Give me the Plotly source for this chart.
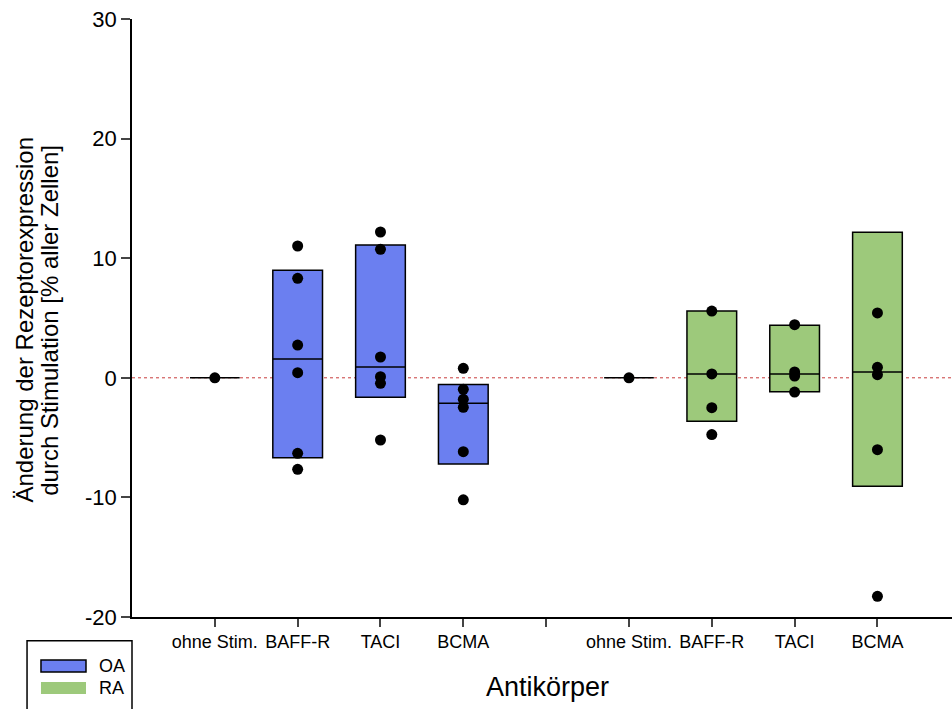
import plotly.graph_objects as go

# ---- data ----
categories = ["ohne Stim.", "BAFF-R", "TACI", "BCMA", "", "ohne Stim.", "BAFF-R", "TACI", "BCMA"]
oa_pos = [1, 2, 3, 4]
ra_pos = [6, 7, 8, 9]

oa_top = [0.0, 9.0, 11.1, -0.55]
oa_median = [0.0, 1.57, 0.9, -2.13]
oa_bottom = [0.0, -6.68, -1.63, -7.2]
oa_points = [
    [0.0],
    [11.02, 8.32, 2.74, 0.43, -6.31, -7.65],
    [12.19, 10.74, 1.74, 0.09, -0.46, -5.2],
    [0.79, -0.96, -1.8, -2.47, -6.18, -10.2],
]

ra_top = [0.0, 5.58, 4.39, 12.17]
ra_median = [0.0, 0.32, 0.32, 0.49]
ra_bottom = [0.0, -3.64, -1.16, -9.07]
ra_points = [
    [0.0],
    [5.58, 0.32, -2.5, -4.75],
    [4.44, 0.49, 0.15, -1.19],
    [5.42, 0.88, 0.26, -6.01, -18.27],
]

y_ticks = [-20, -10, 0, 10, 20, 30]
y_ticktext = ["-20", "-10", "0", "10", "20", "30"]
groups = ["OA", "RA"]
y_title_lines = ["Änderung der Rezeptorexpression", "durch Stimulation [% aller Zellen]"]
x_title = "Antikörper"

BLUE = "#6b7ff0"
GREEN = "#9dc97b"
BOX_W = 0.6

fig = go.Figure()


def add_group(pos, top, med, bot, pts, color):
    xs_box, heights, bases = [], [], []
    for p, t, b in zip(pos, top, bot):
        if t != b:
            xs_box.append(p)
            heights.append(t - b)
            bases.append(b)
    fig.add_trace(go.Bar(x=xs_box, y=heights, base=bases, width=BOX_W,
                         marker=dict(color=color, line=dict(color="black", width=1.5)),
                         showlegend=False, hoverinfo="skip"))
    mx, my = [], []
    for p, m in zip(pos, med):
        mx += [p - BOX_W / 2, p + BOX_W / 2, None]
        my += [m, m, None]
    fig.add_trace(go.Scatter(x=mx, y=my, mode="lines", line=dict(color="black", width=1.5),
                             showlegend=False, hoverinfo="skip"))
    px, py = [], []
    for p, vals in zip(pos, pts):
        px += [p] * len(vals)
        py += vals
    fig.add_trace(go.Scatter(x=px, y=py, mode="markers",
                             marker=dict(color="black", size=11),
                             showlegend=False))


add_group(oa_pos, oa_top, oa_median, oa_bottom, oa_points, BLUE)
add_group(ra_pos, ra_top, ra_median, ra_bottom, ra_points, GREEN)

# zero reference line
fig.add_shape(type="line", xref="paper", yref="y", x0=0, x1=1, y0=0, y1=0,
              line=dict(color="#c83c3c", width=1, dash="dot"), layer="below")

# custom legend
fig.add_shape(type="rect", xref="paper", yref="paper", x0=-0.128, x1=0.0, y0=-0.0396, y1=-0.2,
              line=dict(color="black", width=1.5), fillcolor="white")
fig.add_shape(type="rect", xref="paper", yref="paper", x0=-0.111, x1=-0.0561, y0=-0.0719, y1=-0.092,
              line=dict(color="black", width=1.5), fillcolor=BLUE)
fig.add_shape(type="rect", xref="paper", yref="paper", x0=-0.111, x1=-0.0561, y0=-0.1087, y1=-0.1288,
              line=dict(width=0), fillcolor=GREEN)
for name, yy in zip(groups, [-0.082, -0.119]):
    fig.add_annotation(text=name, xref="paper", yref="paper", x=-0.0427, y=yy,
                       xanchor="left", yanchor="middle", showarrow=False,
                       font=dict(size=18, color="black"))

# axis titles
for line, xx in zip(y_title_lines, [-0.131, -0.1002]):
    fig.add_annotation(text=line, xref="paper", yref="paper", x=xx, y=0.4967, textangle=-90,
                       xanchor="center", yanchor="middle", showarrow=False,
                       font=dict(size=24, color="black"))
fig.add_annotation(text=x_title, xref="paper", yref="paper", x=0.507, y=-0.1175,
                   xanchor="center", yanchor="middle", showarrow=False,
                   font=dict(size=27, color="black"))

fig.update_layout(
    width=952, height=709,
    margin=dict(l=132, r=0, t=19, b=92),
    paper_bgcolor="white", plot_bgcolor="white",
    font=dict(family="Liberation Sans, Arial, sans-serif", color="black"),
    barmode="overlay",
    showlegend=False,
    xaxis=dict(range=[0, 9.9], tickmode="array", tickvals=list(range(1, 10)),
               ticktext=categories, ticks="outside", ticklen=8, tickwidth=1.5,
               showline=True, linecolor="black", linewidth=1.5, showgrid=False,
               zeroline=False, tickfont=dict(size=18)),
    yaxis=dict(range=[-20, 30], tickmode="array", tickvals=y_ticks, ticktext=y_ticktext,
               ticks="outside", ticklen=9, tickwidth=1.5, showline=True, linecolor="black",
               linewidth=1.5, showgrid=False, zeroline=False, tickfont=dict(size=22)),
)

fig.write_html("out.html")
